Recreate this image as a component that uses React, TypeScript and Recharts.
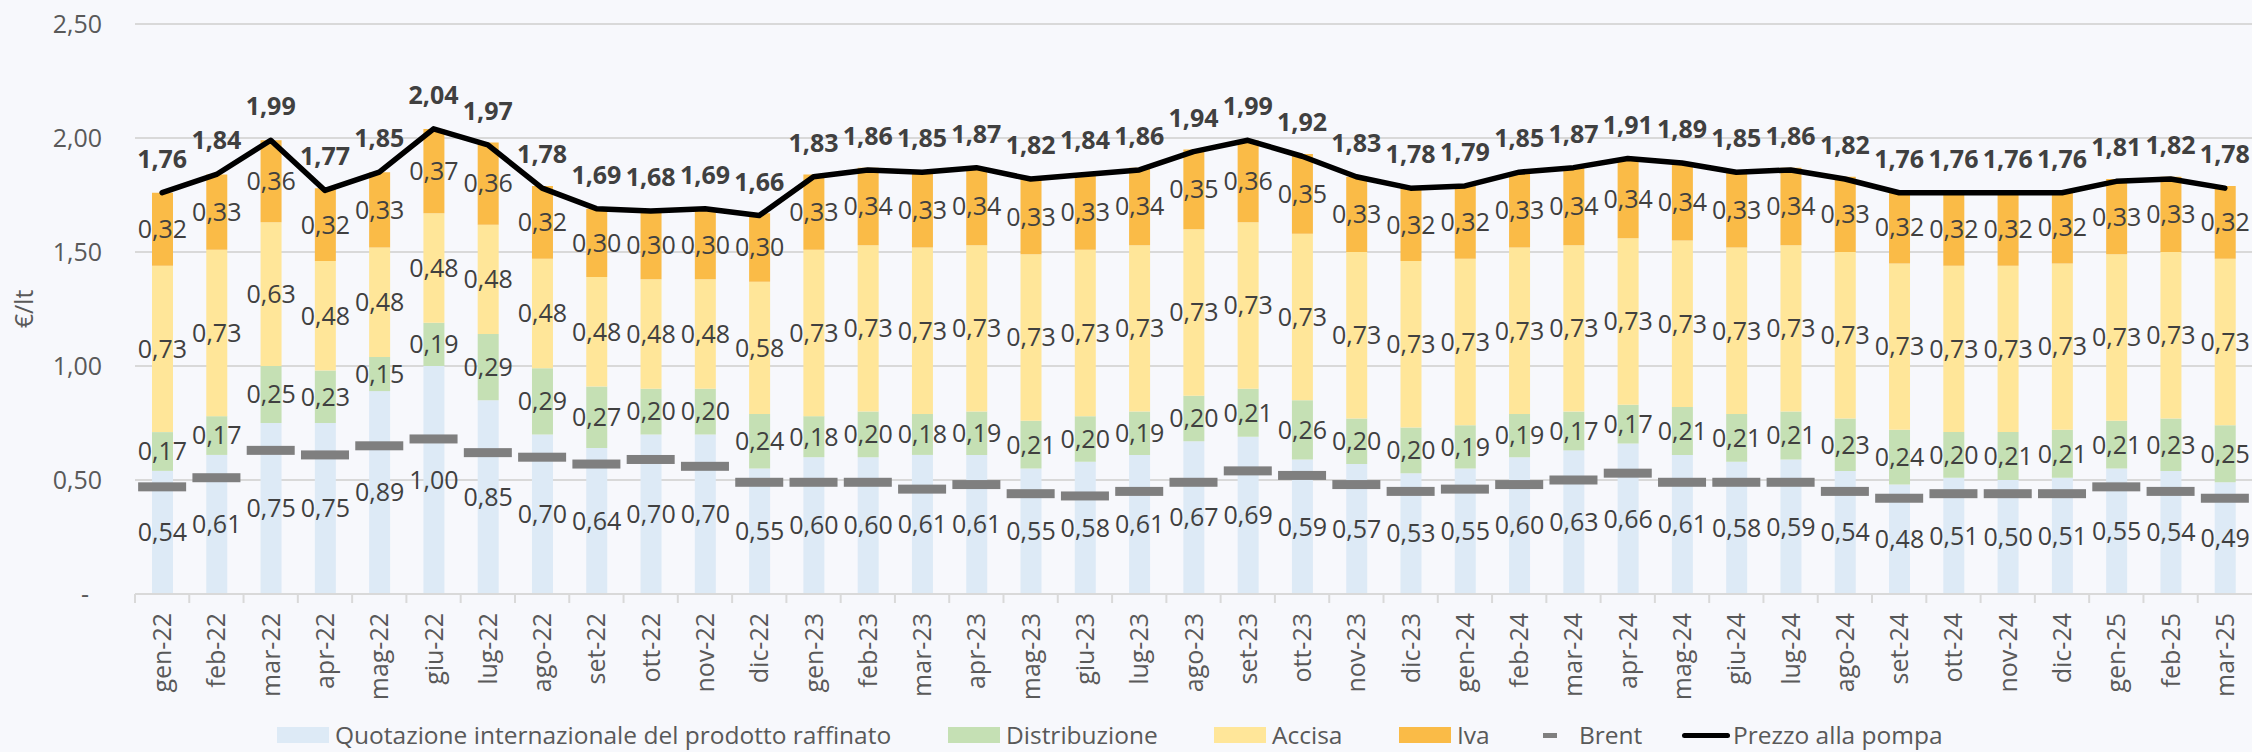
import { ComposedChart, Bar, Line, XAxis, YAxis, CartesianGrid, LabelList } from 'recharts'

const months = [
    'gen-22', 'feb-22', 'mar-22', 'apr-22', 'mag-22', 'giu-22', 'lug-22', 'ago-22', 'set-22', 'ott-22', 'nov-22', 'dic-22',
    'gen-23', 'feb-23', 'mar-23', 'apr-23', 'mag-23', 'giu-23', 'lug-23', 'ago-23', 'set-23', 'ott-23', 'nov-23', 'dic-23',
    'gen-24', 'feb-24', 'mar-24', 'apr-24', 'mag-24', 'giu-24', 'lug-24', 'ago-24', 'set-24', 'ott-24', 'nov-24', 'dic-24',
    'gen-25', 'feb-25', 'mar-25',
]

const quotazione = [
    0.54, 0.61, 0.75, 0.75, 0.89, 1.00, 0.85, 0.70, 0.64, 0.70, 0.70, 0.55,
    0.60, 0.60, 0.61, 0.61, 0.55, 0.58, 0.61, 0.67, 0.69, 0.59, 0.57, 0.53,
    0.55, 0.60, 0.63, 0.66, 0.61, 0.58, 0.59, 0.54, 0.48, 0.51, 0.50, 0.51,
    0.55, 0.54, 0.49,
]

const distribuzione = [
    0.17, 0.17, 0.25, 0.23, 0.15, 0.19, 0.29, 0.29, 0.27, 0.20, 0.20, 0.24,
    0.18, 0.20, 0.18, 0.19, 0.21, 0.20, 0.19, 0.20, 0.21, 0.26, 0.20, 0.20,
    0.19, 0.19, 0.17, 0.17, 0.21, 0.21, 0.21, 0.23, 0.24, 0.20, 0.21, 0.21,
    0.21, 0.23, 0.25,
]

const accisa = [
    0.73, 0.73, 0.63, 0.48, 0.48, 0.48, 0.48, 0.48, 0.48, 0.48, 0.48, 0.58,
    0.73, 0.73, 0.73, 0.73, 0.73, 0.73, 0.73, 0.73, 0.73, 0.73, 0.73, 0.73,
    0.73, 0.73, 0.73, 0.73, 0.73, 0.73, 0.73, 0.73, 0.73, 0.73, 0.73, 0.73,
    0.73, 0.73, 0.73,
]

const iva = [
    0.32, 0.33, 0.36, 0.32, 0.33, 0.37, 0.36, 0.32, 0.30, 0.30, 0.30, 0.30,
    0.33, 0.34, 0.33, 0.34, 0.33, 0.33, 0.34, 0.35, 0.36, 0.35, 0.33, 0.32,
    0.32, 0.33, 0.34, 0.34, 0.34, 0.33, 0.34, 0.33, 0.32, 0.32, 0.32, 0.32,
    0.33, 0.33, 0.32,
]

const brent = [
    0.47, 0.51, 0.63, 0.61, 0.65, 0.68, 0.62, 0.60, 0.57, 0.59, 0.56, 0.49,
    0.49, 0.49, 0.46, 0.48, 0.44, 0.43, 0.45, 0.49, 0.54, 0.52, 0.48, 0.45,
    0.46, 0.48, 0.50, 0.53, 0.49, 0.49, 0.49, 0.45, 0.42, 0.44, 0.44, 0.44,
    0.47, 0.45, 0.42,
]

const prezzo = [
    1.76, 1.84, 1.99, 1.77, 1.85, 2.04, 1.97, 1.78, 1.69, 1.68, 1.69, 1.66,
    1.83, 1.86, 1.85, 1.87, 1.82, 1.84, 1.86, 1.94, 1.99, 1.92, 1.83, 1.78,
    1.79, 1.85, 1.87, 1.91, 1.89, 1.85, 1.86, 1.82, 1.76, 1.76, 1.76, 1.76,
    1.81, 1.82, 1.78,
]

const yTicks = [0, 0.5, 1, 1.5, 2, 2.5]

const W = 2252
const H = 752
const PLOT_LEFT = 135
const PLOT_BOTTOM = 594
const BAND = (W - PLOT_LEFT) / months.length

const COLORS = {
    quotazione: '#ddeaf6',
    distribuzione: '#c5e0b4',
    accisa: '#ffe699',
    iva: '#fabb47',
    brent: '#7f7f7f',
    prezzo: '#000000',
}

const fmt = (v: any) => Number(v).toFixed(2).replace('.', ',')

const data = months.map((m, i) => ({
    mese: m,
    quotazione: quotazione[i],
    distribuzione: distribuzione[i],
    accisa: accisa[i],
    iva: iva[i],
    brent: brent[i],
    prezzo: prezzo[i],
}))

const YTick = (props: any) => {
    const { y, payload } = props
    if (payload.value === 0) {
        return <text x={89} y={y} dy={9} textAnchor="end" fontSize={25} fill="#595959">-</text>
    }
    return (
        <text x={102} y={y} dy={9} textAnchor="end" fontSize={25} fill="#595959">
            {fmt(payload.value)}
        </text>
    )
}

const XTick = (props: any) => {
    const { x, payload } = props
    const left = x - BAND / 2
    return (
        <g>
            <line x1={left} y1={PLOT_BOTTOM} x2={left} y2={PLOT_BOTTOM + 9} stroke="#d9d9d9" strokeWidth={2} />
            <text
                x={x}
                y={613}
                dy={9}
                textAnchor="end"
                fontSize={25}
                fill="#595959"
                transform={`rotate(-90, ${x}, 613)`}
            >
                {payload.value}
            </text>
        </g>
    )
}

// trattino grigio per il Brent
const BrentDash = (props: any) => {
    const { cx, cy, index } = props
    if (cx == null || cy == null) return <g key={index} />
    return <rect key={index} x={cx - 24} y={cy - 4.5} width={48} height={9} fill={COLORS.brent} />
}

const legendItems = [
    { label: 'Quotazione internazionale del prodotto raffinato', kind: 'box', color: COLORS.quotazione, left: 277 },
    { label: 'Distribuzione', kind: 'box', color: COLORS.distribuzione, left: 948 },
    { label: 'Accisa', kind: 'box', color: COLORS.accisa, left: 1214 },
    { label: 'Iva', kind: 'box', color: COLORS.iva, left: 1399 },
    { label: 'Brent', kind: 'dash', color: COLORS.brent, left: 1543 },
    { label: 'Prezzo alla pompa', kind: 'line', color: COLORS.prezzo, left: 1682 },
]

export default function App() {
    return (
        <div
            style={{
                position: 'absolute',
                left: 0,
                top: 0,
                width: W,
                height: H,
                background: '#f7f8fc',
                fontFamily: '"Open Sans", sans-serif',
                overflow: 'hidden',
            }}
        >
            <ComposedChart
                width={W}
                height={H}
                data={data}
                margin={{ top: 24, right: 0, bottom: 0, left: 0 }}
                barSize={21}
            >
                <CartesianGrid vertical={false} stroke="#d9d9d9" strokeWidth={2} />
                <XAxis
                    dataKey="mese"
                    height={H - PLOT_BOTTOM}
                    axisLine={{ stroke: '#d9d9d9', strokeWidth: 2 }}
                    tickLine={false}
                    interval={0}
                    tick={<XTick />}
                />
                <YAxis
                    width={PLOT_LEFT}
                    domain={[0, 2.5]}
                    ticks={yTicks}
                    axisLine={false}
                    tickLine={false}
                    tick={<YTick />}
                />

                <Bar dataKey="quotazione" stackId="a" fill={COLORS.quotazione} isAnimationActive={false}>
                    <LabelList dataKey="quotazione" position="center" formatter={fmt} fontSize={25} fill="#404040" />
                </Bar>
                <Bar dataKey="distribuzione" stackId="a" fill={COLORS.distribuzione} isAnimationActive={false}>
                    <LabelList dataKey="distribuzione" position="center" formatter={fmt} fontSize={25} fill="#404040" />
                </Bar>
                <Bar dataKey="accisa" stackId="a" fill={COLORS.accisa} isAnimationActive={false}>
                    <LabelList dataKey="accisa" position="center" formatter={fmt} fontSize={25} fill="#404040" />
                </Bar>
                <Bar dataKey="iva" stackId="a" fill={COLORS.iva} isAnimationActive={false}>
                    <LabelList dataKey="iva" position="center" formatter={fmt} fontSize={25} fill="#404040" />
                </Bar>

                <Line
                    dataKey="brent"
                    stroke="none"
                    dot={<BrentDash />}
                    activeDot={false}
                    isAnimationActive={false}
                />
                <Line
                    dataKey="prezzo"
                    stroke={COLORS.prezzo}
                    strokeWidth={5.5}
                    strokeLinecap="round"
                    strokeLinejoin="round"
                    dot={false}
                    activeDot={false}
                    isAnimationActive={false}
                >
                    <LabelList
                        dataKey="prezzo"
                        position="top"
                        offset={25}
                        formatter={fmt}
                        fontSize={25}
                        fontWeight="bold"
                        fill="#404040"
                    />
                </Line>
            </ComposedChart>

            {/* titolo asse Y */}
            <div
                style={{
                    position: 'absolute',
                    left: 23,
                    top: 309,
                    transform: 'translate(-50%, -50%) rotate(-90deg)',
                    fontSize: 25,
                    color: '#595959',
                    whiteSpace: 'nowrap',
                }}
            >
                €/lt
            </div>

            {/* legenda */}
            {legendItems.map((it, i) => (
                <div
                    key={i}
                    style={{
                        position: 'absolute',
                        left: it.left,
                        top: 719,
                        height: 32,
                        lineHeight: '32px',
                        display: 'flex',
                        alignItems: 'center',
                        whiteSpace: 'nowrap',
                        fontSize: 24.5,
                        color: '#595959',
                    }}
                >
                    {it.kind === 'box' && (
                        <div style={{ width: 52, height: 16, background: it.color, marginRight: 6 }} />
                    )}
                    {it.kind === 'dash' && (
                        <div style={{ width: 14, height: 5, background: it.color, marginRight: 22 }} />
                    )}
                    {it.kind === 'line' && (
                        <div style={{ width: 48, height: 5, borderRadius: 3, background: it.color, marginRight: 3 }} />
                    )}
                    <span>{it.label}</span>
                </div>
            ))}
        </div>
    )
}
